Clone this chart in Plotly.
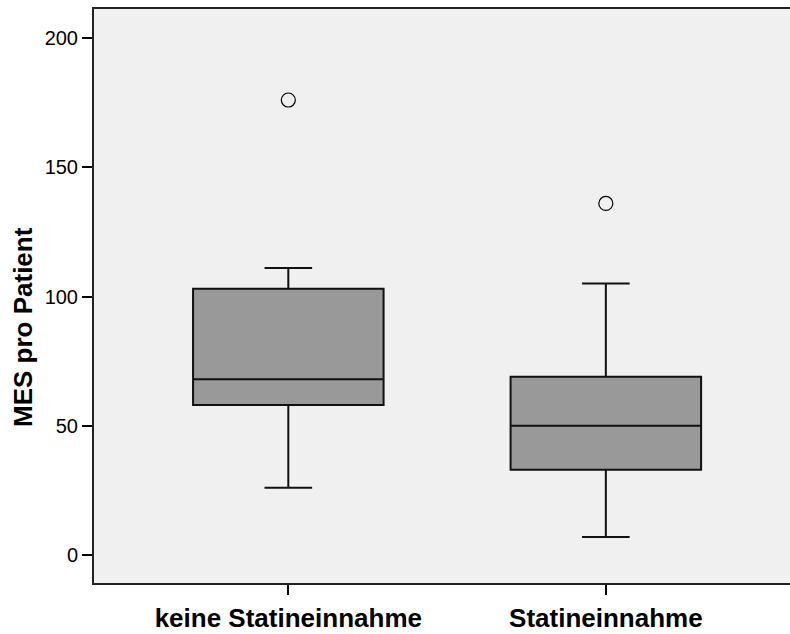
import plotly.graph_objects as go

categories = ["keine Statineinnahme", "Statineinnahme"]
lower_whisker = [26, 7]
q1 = [58, 33]
median = [68, 50]
q3 = [103, 69]
upper_whisker = [111, 105]
outlier_values = [176, 136]
y_ticks = [0, 50, 100, 150, 200]

xpos = list(range(len(categories)))

fig = go.Figure()
fig.add_trace(go.Box(
    x=xpos,
    q1=q1, median=median, q3=q3,
    lowerfence=lower_whisker, upperfence=upper_whisker,
    width=0.6, whiskerwidth=0.25,
    fillcolor="#999999",
    line=dict(color="#111111", width=2),
    boxpoints=False,
    showlegend=False,
    hoverinfo="skip",
))
fig.add_trace(go.Scatter(
    x=xpos, y=outlier_values, mode="markers",
    marker=dict(symbol="circle-open", size=14, color="black", line=dict(width=1.2, color="black")),
    showlegend=False, hoverinfo="skip",
))

fig.update_layout(
    width=790, height=634,
    margin=dict(l=94, r=0, t=9, b=51),
    paper_bgcolor="white",
    plot_bgcolor="#f0f0f0",
    font=dict(family="Liberation Sans, Arial, sans-serif", color="black"),
)
fig.update_xaxes(
    range=[-0.612, 1.58],
    tickvals=xpos, ticktext=["<b>%s</b>" % c for c in categories],
    tickfont=dict(size=26),
    ticks="outside", ticklen=10, tickwidth=1.5, tickcolor="black",
    ticklabelstandoff=1,
    showline=True, linecolor="#222222", linewidth=2, mirror=True,
    showgrid=False, zeroline=False, automargin=False,
)
fig.update_yaxes(
    range=[-10.8, 211.2],
    tickvals=y_ticks,
    tickfont=dict(size=20),
    ticks="outside", ticklen=10, tickwidth=1.5, tickcolor="black",
    showline=True, linecolor="#222222", linewidth=2,
    showgrid=False, zeroline=False, automargin=False,
)
fig.add_annotation(
    text="<b>MES pro Patient</b>", textangle=-90,
    xref="paper", yref="paper", x=-0.102, y=0.446,
    xanchor="center", yanchor="middle", showarrow=False,
    font=dict(size=26),
)

fig.write_html("out.html")
